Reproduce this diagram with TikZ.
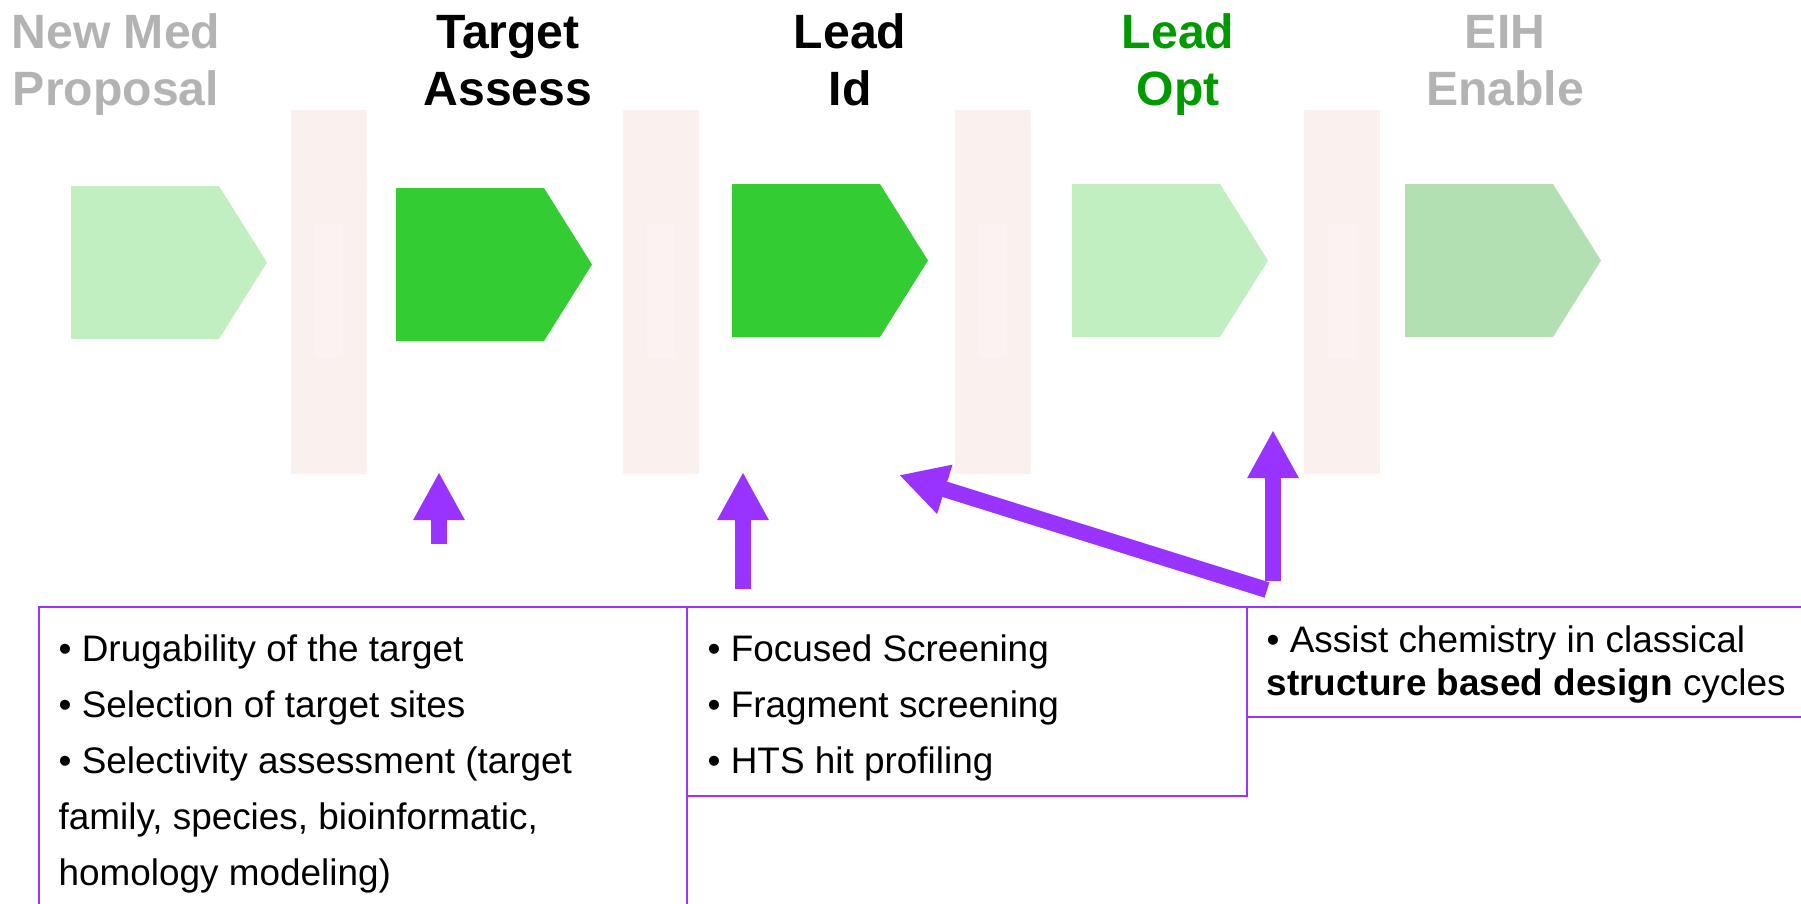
\documentclass[tikz,border=0pt]{standalone}
\usepackage{fontspec}
\setmainfont{Liberation Sans}
\usetikzlibrary{arrows.meta}
\usetikzlibrary{positioning}
\definecolor{GatePink}{RGB}{250,240,238}
\definecolor{GateCore}{RGB}{251,242,241}
\definecolor{StageLight}{RGB}{194,239,194}
\definecolor{StageActive}{RGB}{51,204,51}
\definecolor{StageDim}{RGB}{179,224,179}
\definecolor{TitleGray}{RGB}{179,179,179}
\definecolor{TitleGreen}{RGB}{0,153,0}
\definecolor{ToolPurple}{RGB}{153,51,255}
\tikzset{
	>={Triangle[length=4.8mm, width=4.8mm]},
	gate/.style={fill=GatePink},
	gatecore/.style={fill=GateCore},
	stagetitle/.style={font=\fontsize{13.7}{16.2}\selectfont\bfseries, align=center, anchor=base, inner sep=0pt},
	toolarrow/.style={ToolPurple, line width=1.6mm, ->},
	infobox/.style={draw=ToolPurple, line width=0.6pt, inner sep=0pt, anchor=north west},
	infotext/.style={font=\fontsize{10.5}{15.9}\selectfont, align=left, anchor=base west, inner sep=0pt},
}

\begin{document}
\begin{tikzpicture}[line join=miter]
			
			\useasboundingbox (0,0) rectangle (18.01,-9.03);
			\clip (0,0) rectangle (18.01,-9.03);
			
			% Stage gates between the phases
			\foreach \xb in {2.91,6.23,9.55,13.04} {
				\fill[gate] (\xb,-1.10) rectangle ++(0.76,-3.64);
				\fill[gatecore] (\xb+0.24,-2.24) rectangle ++(0.28,-1.34);
			}
			
			% Phase arrows
			\foreach \xs/\yt/\col in {0.71/-1.86/StageLight, 3.96/-1.88/StageActive, 7.32/-1.84/StageActive, 10.72/-1.84/StageLight, 14.05/-1.84/StageDim} {
				\fill[\col] (\xs,\yt) -- ++(1.48,0) -- ++(0.48,-0.765) -- ++(-0.48,-0.765) -- ++(-1.48,0) -- cycle;
			}
			
			% Phase titles (base = last line)
			\node[stagetitle, text=TitleGray] (newmed) at (1.16,-1.05) {New Med\\Proposal};
			\node[stagetitle] (target) at (5.08,-1.05) {Target\\Assess};
			\node[stagetitle] (leadid) at (8.50,-1.05) {Lead\\Id};
			\node[stagetitle, text=TitleGreen] (leadopt) at (11.78,-1.05) {Lead\\Opt};
			\node[stagetitle, text=TitleGray] (eih) at (15.05,-1.05) {EIH\\Enable};
			
			% Contribution boxes
			\node[infobox, minimum width=6.48cm, minimum height=3.6cm] (assessbox) at (0.38,-6.06) {};
			\node[infobox, minimum width=5.60cm, minimum height=1.89cm] (screenbox) at (6.86,-6.06) {};
			\node[infobox, minimum width=6.00cm, minimum height=1.10cm] (sbddbox) at (12.46,-6.06) {};
			
			\node[infotext] (assesstext) at (0.58,-8.85) {• Drugability of the target\\• Selection of target sites\\• Selectivity assessment (target\\family, species, bioinformatic,\\homology modeling)};
			\node[infotext] (screentext) at (7.07,-7.73) {• Focused Screening\\• Fragment screening\\• HTS hit profiling};
			\node[infotext, font=\fontsize{10.5}{12.2}\selectfont] (sbddtext) at (12.66,-6.95) {• Assist chemistry in classical\\\textbf{structure based design} cycles};
			
			% Arrows up to the phases
			\coordinate (targettail) at (4.39,-5.44);
			\coordinate (targettip) at (4.39,-4.72);
			\coordinate (leadtail) at (7.43,-5.89);
			\coordinate (leadtip) at (7.43,-4.72);
			\coordinate (opttail) at (12.73,-5.81);
			\coordinate (opttip) at (12.73,-4.30);
			\coordinate (cycletail) at (12.67,-5.90);
			\coordinate (cycletip) at (8.99,-4.75);
			
			\draw[toolarrow] (targettail) -- (targettip);
			\draw[toolarrow] (leadtail) -- (leadtip);
			\draw[toolarrow] (opttail) -- (opttip);
			\draw[toolarrow] (cycletail) -- (cycletip);
			
		\end{tikzpicture}
\end{document}
